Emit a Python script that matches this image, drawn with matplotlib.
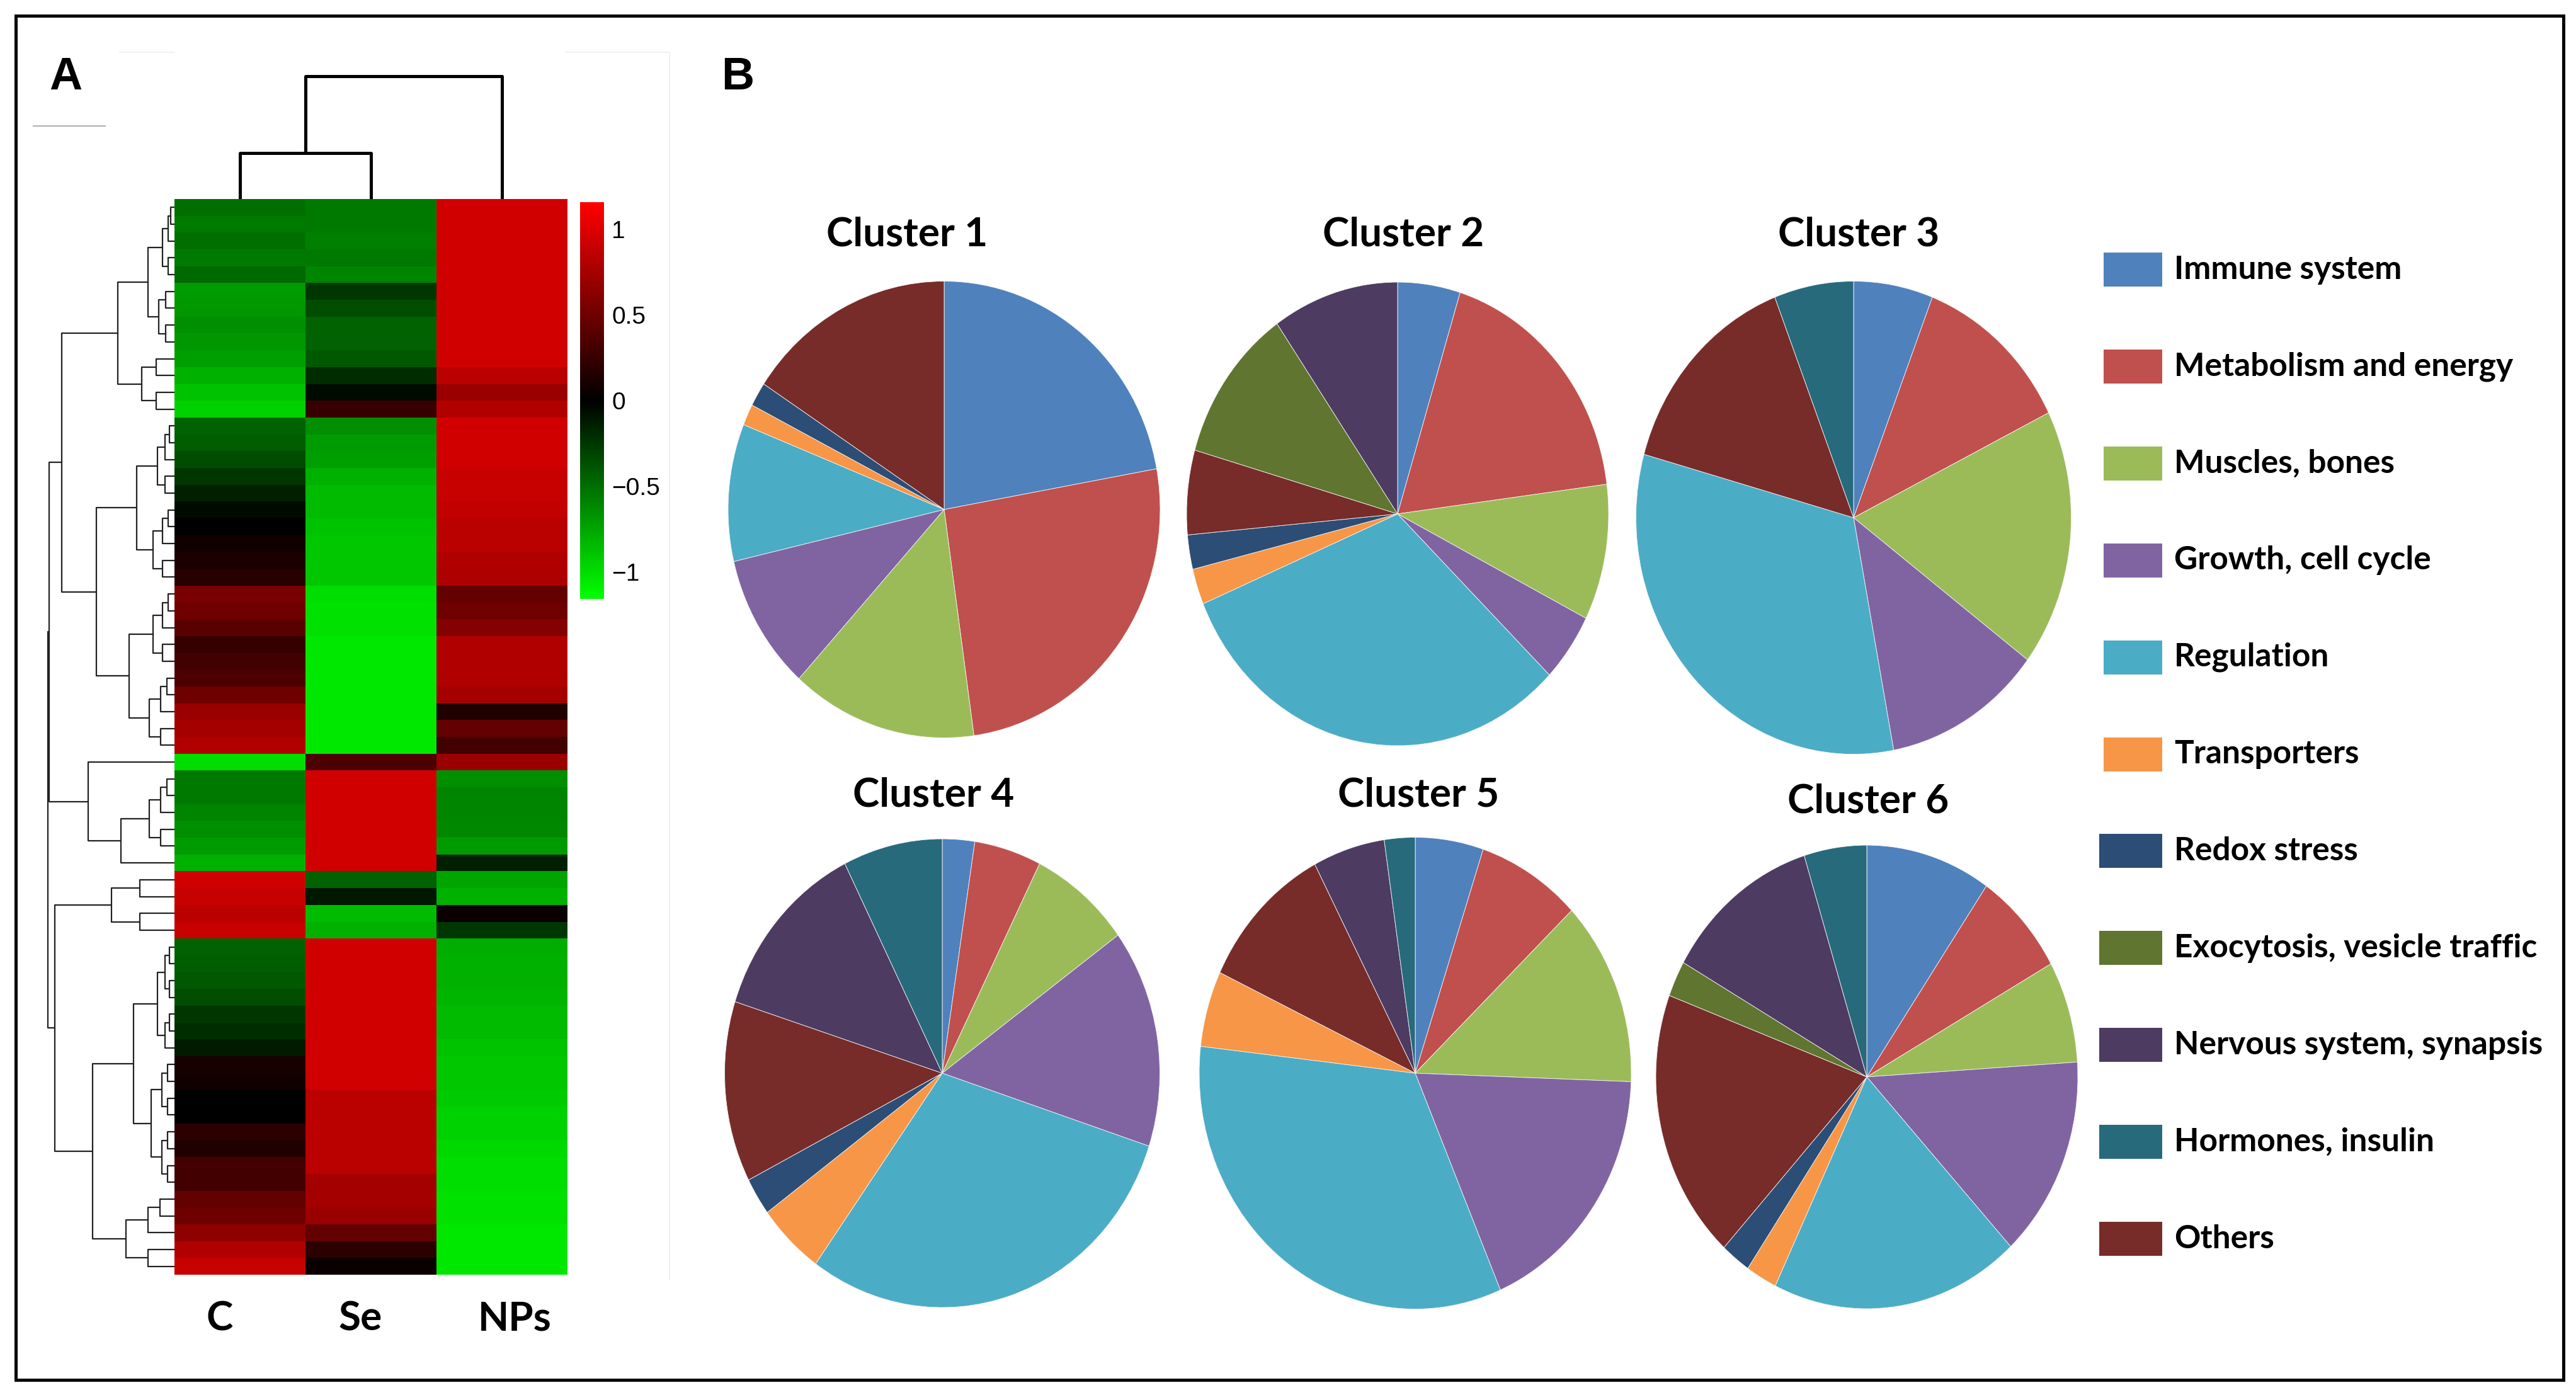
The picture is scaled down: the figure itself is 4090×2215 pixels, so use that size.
import matplotlib
matplotlib.use("Agg")
import matplotlib.pyplot as plt
from matplotlib.colors import LinearSegmentedColormap
from matplotlib.lines import Line2D
from matplotlib.patches import Rectangle
import numpy as np

# figure size in pixels (dpi 100)
W, H = 4091, 2215

# ---- panel A: heatmap values (rows top to bottom) ----
c_values = [-0.50, -0.55, -0.50, -0.55, -0.48,
            -0.70, -0.68, -0.65, -0.68, -0.72, -0.80, -0.88, -0.95,
            -0.45, -0.42, -0.35, -0.25, -0.15, -0.05, 0.00, 0.08, 0.12, 0.18,
            0.55, 0.50, 0.40, 0.25, 0.30, 0.35, 0.50, 0.70, 0.75, 0.80,
            -1.00,
            -0.55, -0.55, -0.60, -0.65, -0.70, -0.80,
            0.95, 0.90, 0.85, 0.90,
            -0.45, -0.42, -0.40, -0.35, -0.25, -0.20, -0.12, 0.10, 0.08, 0.00,
            0.00, 0.20, 0.15, 0.30, 0.30, 0.45, 0.50, 0.65, 0.80, 0.90]
se_values = [-0.55, -0.55, -0.58, -0.55, -0.60,
             -0.25, -0.35, -0.45, -0.45, -0.40, -0.20, -0.05, 0.25,
             -0.65, -0.70, -0.72, -0.80, -0.85, -0.85, -0.88, -0.90, -0.90, -0.90,
             -1.00, -1.02, -1.02, -1.05, -1.05, -1.05, -1.05, -1.05, -1.05, -1.05,
             0.35,
             0.95, 0.95, 0.95, 0.95, 0.95, 0.95,
             -0.45, -0.10, -0.85, -0.80,
             0.95, 0.95, 0.95, 0.95, 0.95, 0.95, 0.95, 0.95, 0.95, 0.85,
             0.85, 0.85, 0.85, 0.85, 0.75, 0.75, 0.70, 0.45, 0.20, 0.05]
nps_values = [0.95, 0.95, 0.95, 0.95, 0.95,
              0.95, 0.95, 0.95, 0.95, 0.95, 0.85, 0.70, 0.80,
              0.95, 0.95, 0.95, 0.90, 0.90, 0.88, 0.85, 0.85, 0.80, 0.78,
              0.45, 0.50, 0.60, 0.80, 0.80, 0.80, 0.75, 0.15, 0.45, 0.30,
              0.70,
              -0.65, -0.60, -0.60, -0.62, -0.70, -0.15,
              -0.75, -0.80, 0.05, -0.25,
              -0.78, -0.80, -0.80, -0.82, -0.85, -0.85, -0.88, -0.90, -0.90, -0.92,
              -0.95, -0.95, -0.98, -1.00, -1.00, -1.02, -1.02, -1.05, -1.05, -1.05]
sample_labels = ["C", "Se", "NPs"]
cbar_ticks = [1, 0.5, 0, -0.5, -1]
cbar_labels = ["1", "0.5", "0", "\u22120.5", "\u22121"]


def rows(a, b, h):
    # small balanced sub-tree for a run of neighbouring rows
    if a == b:
        return a
    m = (a + b) // 2
    return [h, rows(a, m, h * 0.55), rows(m + 1, b, h * 0.55)]


# row dendrogram: [height, left, right], leaves are row indices
row_tree = [201,
            [199,
             [179,
              [90, [42, rows(0, 4, 19), rows(5, 8, 25)], rows(9, 12, 52)],
              [124,
               [60, rows(13, 17, 27), rows(18, 22, 34)],
               [72, rows(23, 27, 34), rows(28, 32, 40)]]],
             [137, 33, [85, rows(34, 38, 40), 39]]],
            [190,
             rows(40, 43, 100),
             [130,
              [65, rows(44, 50, 27), rows(51, 58, 37)],
              rows(59, 63, 77)]]]
col_tree = [195, [73, 0, 1], 2]

# ---- panel B: pies ----
categories = ["Immune system", "Metabolism and energy", "Muscles, bones",
              "Growth, cell cycle", "Regulation", "Transporters", "Redox stress",
              "Exocytosis, vesicle traffic", "Nervous system, synapsis",
              "Hormones, insulin", "Others"]
cat_colors = ["#4F81BD", "#C0504D", "#9BBB59", "#8064A2", "#4BACC6", "#F79646",
              "#2C4D75", "#5F7530", "#4D3B62", "#276A7C", "#772C2A"]
pie_order = [0, 1, 2, 3, 4, 5, 6, 10, 7, 8, 9]

cluster_titles = ["Cluster 1", "Cluster 2", "Cluster 3",
                  "Cluster 4", "Cluster 5", "Cluster 6"]
cluster1 = [22.1, 25.6, 13.9, 9.6, 9.7, 1.5, 1.7, 0, 0, 0, 15.7]
cluster2 = [4.8, 18.2, 9.5, 4.8, 31.5, 2.5, 2.4, 10.9, 9.7, 0, 5.9]
cluster3 = [5.9, 11.8, 17.6, 11.8, 32.3, 0, 0, 0, 0, 5.9, 14.8]
cluster4 = [2.4, 5.0, 7.6, 15.1, 29.9, 5.0, 2.6, 0, 12.7, 7.4, 12.5]
cluster5 = [5.1, 7.8, 12.7, 18.0, 33.3, 5.2, 0, 0, 5.4, 2.3, 10.3]
cluster6 = [9.6, 7.3, 7.1, 14.1, 19.1, 2.4, 2.3, 2.5, 12.0, 4.8, 18.9]
clusters = [cluster1, cluster2, cluster3, cluster4, cluster5, cluster6]

# pie boxes in px: centre x, centre y, width, height
pie_boxes = [(1499, 809, 686, 725), (2219, 816, 670, 736), (2943, 822, 691, 751),
             (1496, 1704, 691, 744), (2247, 1704, 686, 749), (2964, 1710, 670, 736)]
title_pos = [(1440, 372), (2228, 372), (2951, 372),
             (1482, 1262), (2252, 1262), (2966, 1272)]

fig = plt.figure(figsize=(W / 100, H / 100), dpi=100)
fig.patch.set_facecolor("white")


def px_axes(x0, y0, x1, y1):
    return fig.add_axes([x0 / W, 1 - y1 / H, (x1 - x0) / W, (y1 - y0) / H])


def draw_tree(ax, node, lw, color, vertical=False):
    if not isinstance(node, list):
        return node, 0
    h, left, right = node
    p1, h1 = draw_tree(ax, left, lw, color, vertical)
    p2, h2 = draw_tree(ax, right, lw, color, vertical)
    xs = [h1, h, h, h2]
    ys = [p1, p1, p2, p2]
    if vertical:
        ax.plot(ys, xs, color=color, lw=lw, solid_capstyle="butt")
    else:
        ax.plot(xs, ys, color=color, lw=lw, solid_capstyle="butt")
    return (p1 + p2) / 2, h


# heatmap
cmap = LinearSegmentedColormap.from_list("gkr", ["#00ff00", "#000000", "#ff0000"])
data = np.array([c_values, se_values, nps_values]).T
ax_hm = px_axes(277, 316, 901, 2024)
im = ax_hm.imshow(data, aspect="auto", cmap=cmap, vmin=-1.16, vmax=1.16,
                  interpolation="nearest")
ax_hm.axis("off")

# column labels
for i, lab in enumerate(sample_labels):
    fig.text((277 + 208 * (i + 0.5)) / W - 0.008 * (i == 0) - 0.004 * (i == 1) + 0.005 * (i == 2),
             1 - 2094 / H, lab, ha="center", va="center",
             fontsize=46, fontweight="bold", family="Lato")

# row dendrogram
ax_rd = px_axes(60, 316, 277, 2024)
draw_tree(ax_rd, row_tree, 1.6, "#222222")
ax_rd.set_xlim(217, 0)
ax_rd.set_ylim(len(c_values) - 0.5, -0.5)
ax_rd.axis("off")

# column dendrogram
ax_cd = px_axes(277, 100, 901, 316)
draw_tree(ax_cd, col_tree, 3.6, "black", vertical=True)
ax_cd.set_xlim(-0.5, 2.5)
ax_cd.set_ylim(0, 216)
ax_cd.axis("off")

# colorbar
cax = px_axes(921, 321, 959, 951)
cb = fig.colorbar(im, cax=cax)
cb.outline.set_visible(False)
cb.set_ticks(cbar_ticks)
cb.set_ticklabels(cbar_labels)
cax.tick_params(length=0, pad=9, labelsize=28)
for t in cax.get_yticklabels():
    t.set_family("Liberation Sans")

# pies
for vals, (cx, cy, w, h) in zip(clusters, pie_boxes):
    ax = px_axes(cx - w / 2, cy - h / 2, cx + w / 2, cy + h / 2)
    sizes = [vals[k] for k in pie_order if vals[k] > 0]
    cols = [cat_colors[k] for k in pie_order if vals[k] > 0]
    ax.pie(sizes, colors=cols, startangle=90, counterclock=False,
           wedgeprops=dict(linewidth=0.6, edgecolor="#f4f4f4"))
    ax.set_aspect("auto")
    ax.set_xlim(-1, 1)
    ax.set_ylim(-1, 1)
    ax.axis("off")

for title, (tx, ty) in zip(cluster_titles, title_pos):
    fig.text(tx / W, 1 - ty / H, title, ha="center", va="center",
             fontsize=46, fontweight="bold", family="Lato")

# legend
for i, (lab, col) in enumerate(zip(categories, cat_colors)):
    y = 428 + 153.9 * i
    x0 = 3340 if i < 6 else 3333
    fig.patches.append(Rectangle((x0 / W, 1 - (y + 27) / H), (3433 - x0) / W, 54 / H,
                                 transform=fig.transFigure, facecolor=col,
                                 edgecolor="none"))
    fig.text(3452 / W, 1 - y / H, lab, ha="left", va="center",
             fontsize=37, fontweight="bold", family="Lato")

# panel letters
fig.text(104 / W, 1 - 123 / H, "A", ha="center", va="center",
         fontsize=52, fontweight="bold", family="Liberation Sans")
fig.text(1171 / W, 1 - 123 / H, "B", ha="center", va="center",
         fontsize=52, fontweight="bold", family="Liberation Sans")

# faint remains of the original panel frame
fig.add_artist(Line2D([53 / W, 167 / W], [1 - 200 / H, 1 - 200 / H],
                      transform=fig.transFigure, color="#b0b0b0", lw=1.5))
for xa, xb in [(190, 277), (898, 1063)]:
    fig.add_artist(Line2D([xa / W, xb / W], [1 - 83 / H, 1 - 83 / H],
                          transform=fig.transFigure, color="#eeeeee", lw=1.2))
fig.add_artist(Line2D([1063 / W, 1063 / W], [1 - 83 / H, 1 - 2032 / H],
                      transform=fig.transFigure, color="#eeeeee", lw=1.2))

# outer frame
fig.patches.append(Rectangle((25 / W, 1 - 2191 / H), (4070 - 25) / W, (2191 - 25) / H,
                             transform=fig.transFigure, fill=False,
                             edgecolor="black", lw=3.6))

fig.savefig("out.png", dpi=100, facecolor="white")
